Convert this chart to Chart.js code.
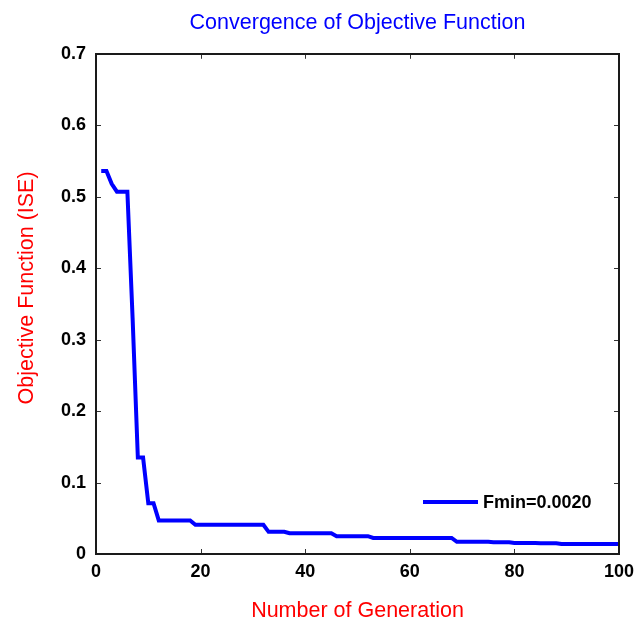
<!DOCTYPE html>
<html>
<head>
<meta charset="utf-8">
<script src="https://cdn.jsdelivr.net/npm/chart.js@4"></script>
<style>
  html, body { margin: 0; padding: 0; background: #fff; }
  #wrap { width: 644px; height: 624px; }
</style>
</head>
<body>
<div id="wrap"><canvas id="conv"></canvas></div>
<script>
// generation number (x)
const generations = [
  1, 2, 3, 4, 5, 6, 7, 8, 9, 10,
  11, 12, 13, 14, 15, 16, 17, 18, 19, 20,
  21, 22, 23, 24, 25, 26, 27, 28, 29, 30,
  31, 32, 33, 34, 35, 36, 37, 38, 39, 40,
  41, 42, 43, 44, 45, 46, 47, 48, 49, 50,
  51, 52, 53, 54, 55, 56, 57, 58, 59, 60,
  61, 62, 63, 64, 65, 66, 67, 68, 69, 70,
  71, 72, 73, 74, 75, 76, 77, 78, 79, 80,
  81, 82, 83, 84, 85, 86, 87, 88, 89, 90,
  91, 92, 93, 94, 95, 96, 97, 98, 99, 100
];

// best objective value (ISE) per generation
const iseValues = [
  0.536, 0.536, 0.518, 0.507, 0.507, 0.507, 0.330, 0.135, 0.135, 0.071,
  0.071, 0.047, 0.047, 0.047, 0.047, 0.047, 0.047, 0.047, 0.041, 0.041,
  0.041, 0.041, 0.041, 0.041, 0.041, 0.041, 0.041, 0.041, 0.041, 0.041,
  0.041, 0.041, 0.031, 0.031, 0.031, 0.031, 0.029, 0.029, 0.029, 0.029,
  0.029, 0.029, 0.029, 0.029, 0.029, 0.025, 0.025, 0.025, 0.025, 0.025,
  0.025, 0.025, 0.0224, 0.0224, 0.0224, 0.0224, 0.0224, 0.0224, 0.0224, 0.0224,
  0.0224, 0.0224, 0.0224, 0.0224, 0.0224, 0.0224, 0.0224, 0.0224, 0.017, 0.017,
  0.017, 0.017, 0.017, 0.017, 0.017, 0.0165, 0.0165, 0.0165, 0.0165, 0.0155,
  0.0155, 0.0155, 0.0155, 0.0155, 0.015, 0.015, 0.015, 0.015, 0.014, 0.014,
  0.014, 0.014, 0.014, 0.014, 0.014, 0.014, 0.014, 0.014, 0.014, 0.014
];

const xTicks = [0, 20, 40, 60, 80, 100];
const yTicks = [0, 0.1, 0.2, 0.3, 0.4, 0.5, 0.6, 0.7];
const legendText = 'Fmin=0.0020';
const yTitle = 'Objective Function (ISE)';

const FONT = 'Arial, "Liberation Sans", Helvetica, sans-serif';

// matlab style box with inward ticks on all four sides + legend + ylabel
const boxPlugin = {
  id: 'matlabBox',
  afterDatasetsDraw(chart) {
    let ctx = chart.ctx;
    let a = chart.chartArea;
    let xs = chart.scales.x, ys = chart.scales.y;
    let tl = 5;
    ctx.save();
    // ticks
    ctx.strokeStyle = '#333';
    ctx.lineWidth = 1;
    ctx.beginPath();
    xTicks.forEach(function(v) {
      let px = Math.round(xs.getPixelForValue(v)) + 0.5;
      ctx.moveTo(px, a.bottom); ctx.lineTo(px, a.bottom - tl);
      ctx.moveTo(px, a.top); ctx.lineTo(px, a.top + tl);
    });
    yTicks.forEach(function(v) {
      let py = Math.round(ys.getPixelForValue(v)) + 0.5;
      ctx.moveTo(a.left, py); ctx.lineTo(a.left + tl, py);
      ctx.moveTo(a.right, py); ctx.lineTo(a.right - tl, py);
    });
    ctx.stroke();
    // box
    ctx.strokeStyle = '#1a1a1a';
    ctx.lineWidth = 2;
    ctx.strokeRect(Math.round(a.left), Math.round(a.top),
                   Math.round(a.right - a.left), Math.round(a.bottom - a.top));

    // legend (no frame, like the original)
    let ly = a.bottom - 52;
    let lx = a.right - 196;
    ctx.strokeStyle = '#0000ff';
    ctx.lineWidth = 4;
    ctx.beginPath();
    ctx.moveTo(lx, ly); ctx.lineTo(lx + 55, ly);
    ctx.stroke();
    ctx.fillStyle = '#000';
    ctx.font = 'bold 18px ' + FONT;
    ctx.textBaseline = 'middle';
    ctx.textAlign = 'left';
    ctx.fillText(legendText, lx + 60, ly + 1);

    // y label, matlab puts it a bit above the axis centre
    ctx.fillStyle = '#ff0000';
    ctx.font = '21.5px ' + FONT;
    ctx.textAlign = 'center';
    ctx.translate(27.5, (a.top + a.bottom) / 2 - 16);
    ctx.rotate(-Math.PI / 2);
    ctx.fillText(yTitle, 0, 0);
    ctx.restore();
  }
};

let points = generations.map(function(g, i) { return {x: g, y: iseValues[i]}; });

let config = {
  type: 'line',
  data: {
    datasets: [{
      label: legendText,
      data: points,
      borderColor: '#0000ff',
      borderWidth: 4,
      pointRadius: 0,
      tension: 0,
      fill: false
    }]
  },
  options: {
    responsive: true,
    maintainAspectRatio: false,
    animation: false,
    layout: { padding: { left: 0, right: 25, top: 0, bottom: 0 } },
    plugins: {
      legend: { display: false },
      tooltip: { enabled: false },
      title: {
        display: true,
        fullSize: false, // centre over the plot box, not the canvas
        text: 'Convergence of Objective Function',
        color: '#0000ff',
        font: { family: FONT, size: 21.5, weight: 'normal' },
        padding: { top: 10, bottom: 18 }
      }
    },
    scales: {
      x: {
        type: 'linear',
        min: 0,
        max: 100,
        afterFit: function(s) { s.height = 70; },
        afterBuildTicks: function(s) { s.ticks = xTicks.map(function(v) { return {value: v}; }); },
        grid: { display: false, drawTicks: false },
        border: { display: false },
        ticks: {
          color: '#000',
          padding: 7,
          maxRotation: 0,
          font: { family: FONT, size: 18, weight: 'bold' }
        },
        title: {
          display: true,
          text: 'Number of Generation',
          color: '#ff0000',
          font: { family: FONT, size: 21.5, weight: 'normal' },
          padding: { top: 0, bottom: 0 }
        }
      },
      y: {
        min: 0,
        max: 0.7,
        afterFit: function(s) { s.width = 96; },
        afterBuildTicks: function(s) { s.ticks = yTicks.map(function(v) { return {value: v}; }); },
        grid: { display: false, drawTicks: false },
        border: { display: false },
        ticks: {
          color: '#000',
          padding: 10,
          font: { family: FONT, size: 18, weight: 'bold' }
        }
      }
    }
  },
  plugins: [boxPlugin]
};

new Chart(document.getElementById('conv'), config);
</script>
</body>
</html>
